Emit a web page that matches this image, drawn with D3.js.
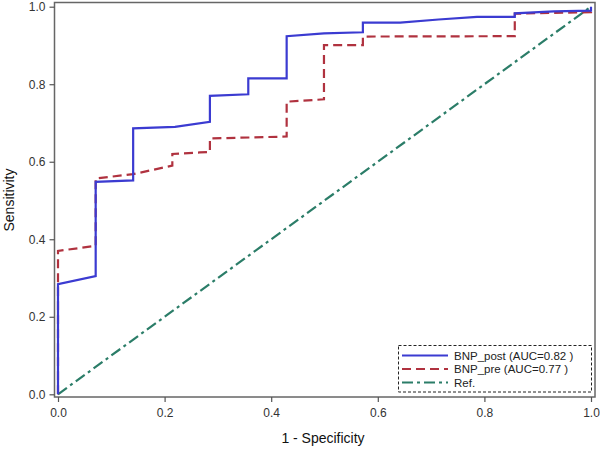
<!DOCTYPE html>
<html><head><meta charset="utf-8">
<script src="https://cdn.jsdelivr.net/npm/d3@7"></script>
<style>body{margin:0;background:#fff}svg{display:block}</style>
</head><body><svg id="c" width="600" height="449"></svg>
<script>
const xTicks = [0, 0.2, 0.4, 0.6, 0.8, 1.0];
const yTicks = [0, 0.2, 0.4, 0.6, 0.8, 1.0];
const postFpr  = [0, 0, 0.0707, 0.0707, 0.141, 0.141, 0.2195, 0.285, 0.285, 0.357, 0.357, 0.429, 0.429, 0.499, 0.572, 0.572, 0.642, 0.714, 0.786, 0.857, 0.857, 0.93, 1.0, 1.0];
const postSens = [0, 0.284, 0.305, 0.548, 0.552, 0.686, 0.690, 0.703, 0.770, 0.774, 0.815, 0.815, 0.924, 0.931, 0.934, 0.959, 0.959, 0.967, 0.974, 0.974, 0.983, 0.988, 0.99, 1.0];
const preFpr  = [0, 0, 0.0707, 0.0707, 0.141, 0.2145, 0.2145, 0.266, 0.285, 0.285, 0.429, 0.429, 0.499, 0.499, 0.572, 0.572, 0.857, 0.857, 1.0, 1.0];
const preSens = [0, 0.370, 0.383, 0.557, 0.568, 0.590, 0.620, 0.624, 0.625, 0.660, 0.665, 0.755, 0.761, 0.901, 0.901, 0.923, 0.924, 0.982, 0.986, 0.995];
const refFpr = [0, 1];
const refSens = [0, 1];
const seriesNames = ["BNP_post (AUC=0.82 )", "BNP_pre (AUC=0.77 )", "Ref."];
const colors = ["#3b3bd1", "#b0323f", "#2b7d68"];
const dashes = [null, "9,5", "11,4,3,4"];

const svg = d3.select("#c");
const x = d3.scaleLinear().domain([0,1]).range([58, 591]);
const y = d3.scaleLinear().domain([0,1]).range([394.3, 6.7]);
const font = "Arial, 'Liberation Sans', sans-serif";

// frame
svg.append("rect").attr("x",54.5).attr("y",2.5).attr("width",540.5).attr("height",394.5)
  .attr("fill","none").attr("stroke","#666").attr("stroke-width",1.5);

// axes
const xa = svg.append("g").attr("transform","translate(0,397)")
  .call(d3.axisBottom(x).tickValues(xTicks).tickFormat(d3.format(".1f")).tickSize(5).tickPadding(6));
const ya = svg.append("g").attr("transform","translate(54.5,0)")
  .call(d3.axisLeft(y).tickValues(yTicks).tickFormat(d3.format(".1f")).tickSize(5).tickPadding(4));
[xa, ya].forEach(a => {
  a.select(".domain").remove();
  a.selectAll("line").attr("stroke","#555").attr("stroke-width",1.2);
  a.selectAll("text").attr("fill","#333").style("font-family",font).style("font-size","12px");
});

svg.append("text").attr("x",323).attr("y",443).attr("text-anchor","middle")
  .style("font-family",font).style("font-size","14px").attr("fill","#111").text("1 - Specificity");
svg.append("text").attr("transform","translate(14,200) rotate(-90)").attr("text-anchor","middle")
  .style("font-family",font).style("font-size","14px").attr("fill","#111").text("Sensitivity");

const line = d3.line().x(d=>x(d[0])).y(d=>y(d[1]));
const data = [
  d3.zip(postFpr, postSens),
  d3.zip(preFpr, preSens),
  d3.zip(refFpr, refSens)
];
// draw ref first, then pre, then post
[2,1,0].forEach(i => {
  svg.append("path").datum(data[i]).attr("d", line).attr("fill","none")
    .attr("stroke", colors[i]).attr("stroke-width", 2.2)
    .attr("stroke-dasharray", dashes[i]);
});

// legend
const lg = svg.append("g");
lg.append("rect").attr("x",398.5).attr("y",345.5).attr("width",193).attr("height",46.5)
  .attr("fill","#fff").attr("stroke","#222").attr("stroke-width",1).attr("stroke-dasharray","3,2");
seriesNames.forEach((n,i) => {
  const yy = 355.5 + i*13.5;
  lg.append("line").attr("x1",402).attr("x2",448).attr("y1",yy).attr("y2",yy)
    .attr("stroke",colors[i]).attr("stroke-width",2.2).attr("stroke-dasharray",dashes[i]);
  lg.append("text").attr("x",454).attr("y",yy+4).style("font-family",font).style("font-size","11.5px")
    .attr("fill","#222").text(n);
});
</script></body></html>
